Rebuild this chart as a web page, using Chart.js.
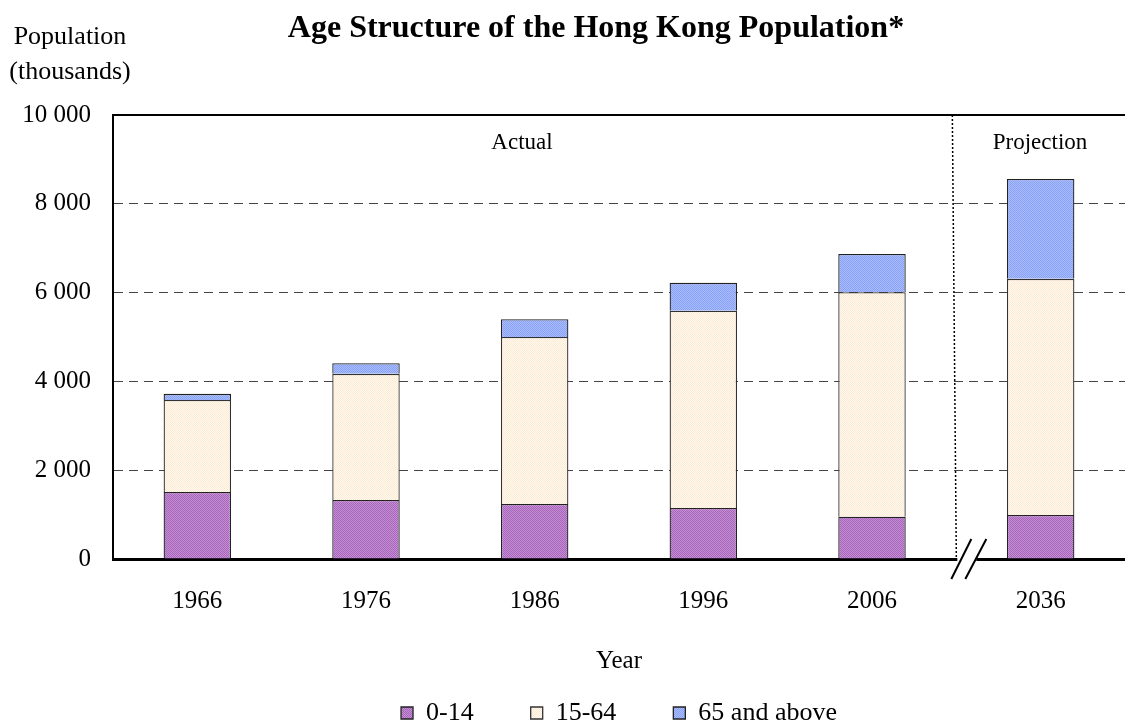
<!DOCTYPE html>
<html>
<head>
<meta charset="utf-8">
<script src="https://cdn.jsdelivr.net/npm/chart.js@4"></script>
<style>
  body { margin: 0; background: #fff; }
</style>
</head>
<body>
<canvas id="myChart" width="1125" height="726"></canvas>
<script>
const years = ['1966', '1976', '1986', '1996', '2006', '2036'];
const age0to14 = [1510, 1330, 1240, 1150, 950, 990];
const age15to64 = [2070, 2840, 3760, 4440, 5060, 5320];
const age65plus = [140, 240, 400, 630, 860, 2250];
const yTicks = [0, 2000, 4000, 6000, 8000, 10000];

const serif = "'Liberation Serif', 'Times New Roman', serif";

// dotted fill like the original's texture
function texture(base, dot) {
    const c = document.createElement('canvas');
    c.width = 2; c.height = 2;
    const g = c.getContext('2d');
    g.fillStyle = base;
    g.fillRect(0, 0, 2, 2);
    g.fillStyle = dot;
    g.fillRect(0, 0, 1, 1);
    g.fillRect(1, 1, 1, 1);
    return g.createPattern(c, 'repeat');
}

const extras = {
    id: 'extras',
    afterDraw(chart) {
        const ctx = chart.ctx;
        const x = chart.scales.x;
        const area = chart.chartArea;
        const split = (x.getPixelForValue(4) + x.getPixelForValue(5)) / 2;
        ctx.save();
        ctx.fillStyle = '#000';
        ctx.textAlign = 'center';
        ctx.textBaseline = 'middle';
        ctx.font = 'bold 32px ' + serif;
        ctx.fillText('Age Structure of the Hong Kong Population*', 596, 29);
        ctx.font = '26px ' + serif;
        ctx.fillText('Population', 70, 37);
        ctx.fillText('(thousands)', 70, 72);
        ctx.font = '23px ' + serif;
        ctx.fillText('Actual', 522, 143);
        ctx.fillText('Projection', 1040, 143);

        // dotted separator
        ctx.strokeStyle = '#000';
        ctx.lineWidth = 1.5;
        ctx.setLineDash([2, 2]);
        ctx.beginPath();
        ctx.moveTo(split - 4, area.top);
        ctx.lineTo(split, area.bottom);
        ctx.stroke();
        ctx.setLineDash([]);

        // axis break
        ctx.fillStyle = '#fff';
        ctx.fillRect(split + 1, area.bottom - 2, 19, 4);
        ctx.strokeStyle = '#000';
        ctx.lineWidth = 2;
        ctx.beginPath();
        ctx.moveTo(split - 5, area.bottom + 20);
        ctx.lineTo(split + 15, area.bottom - 20);
        ctx.moveTo(split + 9, area.bottom + 20);
        ctx.lineTo(split + 30, area.bottom - 20);
        ctx.stroke();
        ctx.restore();
    }
};

const ctx = document.getElementById('myChart').getContext('2d');

let myChart = new Chart(ctx, {
    type: 'bar',
    data: {
        labels: years,
        datasets: [{
            label: '0-14',
            data: age0to14,
            backgroundColor: texture('#c68ed6', '#a666b8'),
            borderColor: '#222',
            borderWidth: 1.3
        }, {
            label: '15-64',
            data: age15to64,
            backgroundColor: texture('#fffaf2', '#fde9d0'),
            borderColor: '#333',
            borderWidth: 1.3
        }, {
            label: '65 and above',
            data: age65plus,
            backgroundColor: texture('#a8bcff', '#8aa2f2'),
            borderColor: '#222',
            borderWidth: 1.3
        }]
    },
    options: {
        responsive: false,
        animation: false,
        devicePixelRatio: 1,
        layout: {
            padding: { top: 115, left: 0, right: 0, bottom: -10 }
        },
        datasets: {
            bar: { barPercentage: 0.4, categoryPercentage: 1 }
        },
        plugins: {
            title: { display: false },
            tooltip: { enabled: false },
            legend: {
                position: 'bottom',
                fullSize: false,
                labels: {
                    boxWidth: 12,
                    boxHeight: 12,
                    padding: 57,
                    color: '#000',
                    font: { family: serif, size: 26 }
                }
            }
        },
        scales: {
            x: {
                stacked: true,
                grid: { display: false, drawTicks: false },
                border: { display: true, color: '#000', width: 3 },
                ticks: {
                    padding: 27,
                    color: '#000',
                    font: { family: serif, size: 25 }
                },
                title: {
                    display: true,
                    text: 'Year',
                    color: '#000',
                    font: { family: serif, size: 25 },
                    padding: { top: 0, bottom: -33 }
                },
                afterFit(scale) { scale.height = 84; }
            },
            xTop: {
                position: 'top',
                type: 'category',
                labels: years,
                grid: { display: false, drawTicks: false },
                ticks: { display: false },
                border: { display: true, color: '#000', width: 2 },
                afterFit(scale) { scale.height = 0; }
            },
            y: {
                stacked: true,
                min: 0,
                max: 10000,
                afterBuildTicks(scale) {
                    scale.ticks = yTicks.map(v => ({ value: v }));
                },
                grid: {
                    drawTicks: false,
                    lineWidth: 1,
                    color: c => (c.tick && (c.tick.value === 0 || c.tick.value === 10000)) ? 'rgba(0,0,0,0)' : '#444'
                },
                border: { display: true, color: '#000', width: 2, dash: [9, 6] },
                ticks: {
                    padding: 22,
                    color: '#000',
                    font: { family: serif, size: 25 },
                    callback: v => String(v).replace(/\B(?=(\d{3})+(?!\d))/g, ' ')
                },
                afterFit(scale) { scale.width = 113; }
            }
        }
    },
    plugins: [extras]
});
</script>
</body>
</html>
